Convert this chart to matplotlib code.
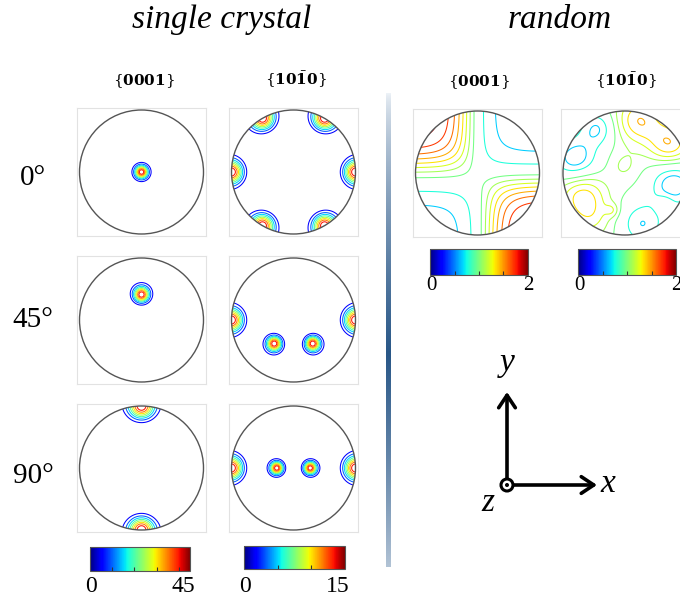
import numpy as np
import matplotlib
matplotlib.use('Agg')
import matplotlib.pyplot as plt
from matplotlib.patches import Circle
from matplotlib.cm import ScalarMappable
from matplotlib.colors import Normalize
from matplotlib.ticker import FixedLocator

plt.rcParams['mathtext.fontset'] = 'dejavuserif'

W, H = 680, 596

# ---------------- data ----------------
group_titles = ['single crystal', 'random']
family_labels = [r'$\{\mathbf{0001}\}$', r'$\{\mathbf{10\bar{1}0}\}$']
tilt_labels = ['0°', '45°', '90°']

# single crystal: colour-bar maxima, inner tick marks, pole spread (deg)
sc_max = [45, 15]
sc_cbar_ticks = [[10, 20, 30, 40], [5, 10]]
sc_spread_deg = [8.4, 7.6]

# projected pole positions in the unit circle, one list per tilt row
p0001_x = [[0.0], [0.0], [0.0, 0.0]]
p0001_y = [[0.0], [0.41], [1.0, -1.0]]
p1010_x = [[1.0, 0.5, -0.5, -1.0, -0.5, 0.5],
           [1.0, -1.0, -0.31, 0.31],
           [1.0, -1.0, -0.27, 0.27]]
p1010_y = [[0.0, 0.866, 0.866, 0.0, -0.866, -0.866],
           [0.0, 0.0, -0.38, -0.38],
           [0.0, 0.0, 0.0, 0.0]]

# random texture: colour-bar range and contour levels
rnd_max = 2
rnd_cbar_ticks = [0.5, 1.0, 1.5]
rnd_levels = [0.65, 0.77, 0.98, 1.1, 1.22, 1.34, 1.46, 1.58, 1.7, 1.82]
rnd_base = [0.97, 1.0]
# quadrant-type density features: corner x, corner y, x sign, y sign, amplitude, ramp
q0001_x = [-0.06, 0.08, -0.17, 0.15]
q0001_y = [0.00, -0.06, -0.10, -0.07]
q0001_dx = [-1, 1, 1, -1]
q0001_dy = [1, -1, 1, -1]
q0001_a = [1.00, 1.00, -0.40, -0.40]
q0001_l = [0.42, 0.42, 0.40, 0.40]

# local density features: centre x, centre y, amplitude, width
b1010_x = [0.23, 0.72, -0.70, -0.55, -0.21, -0.02, -0.80, -0.45, 0.78, 0.28, 0.64]
b1010_y = [0.85, 0.47, -0.33, -0.72, -0.60, 0.12, 0.22, 0.72, -0.18, -0.82, -0.50]
b1010_a = [0.45, 0.45, 0.38, 0.22, 0.18, 0.12, -0.45, -0.35, -0.45, -0.35, 0.18]
b1010_s = [0.26, 0.24, 0.26, 0.24, 0.08, 0.16, 0.26, 0.20, 0.26, 0.26, 0.10]

rnd_quads = [(q0001_x, q0001_y, q0001_dx, q0001_dy, q0001_a, q0001_l),
             ([], [], [], [], [], [])]
rnd_blobs = [([], [], [], []),
             (b1010_x, b1010_y, b1010_a, b1010_s)]

# ---------------- helpers ----------------
fig = plt.figure(figsize=(W / 100, H / 100), dpi=100)
ov = fig.add_axes([0, 0, 1, 1])
ov.set_xlim(0, W)
ov.set_ylim(H, 0)
ov.axis('off')

R_PX = 62.0
g = np.linspace(-1.06, 1.06, 421)
U, V = np.meshgrid(g, g)


def to_sphere(u, v):
    r2 = np.asarray(u) ** 2 + np.asarray(v) ** 2
    return 2 * u / (1 + r2), 2 * v / (1 + r2), (1 - r2) / (1 + r2)


def pf_axes(cx, cy):
    ax = fig.add_axes([(cx - 64.5) / W, 1 - (cy + 64) / H, 129 / W, 128 / H])
    ax.set_xlim(-64.5 / R_PX, 64.5 / R_PX)
    ax.set_ylim(-64 / R_PX, 64 / R_PX)
    ax.set_xticks([])
    ax.set_yticks([])
    for sp in ax.spines.values():
        sp.set_color('#e2e2e2')
        sp.set_linewidth(0.8)
    return ax


def draw_pf(ax, Z, levels, vmax):
    cs = ax.contour(U, V, Z, levels=levels, cmap='jet',
                    norm=Normalize(0, vmax), linewidths=0.75)
    clip = Circle((0, 0), 1.0, transform=ax.transData)
    cs.set_clip_path(clip)
    ax.add_patch(Circle((0, 0), 1.0, fill=False, edgecolor='#555555',
                        linewidth=1.0, zorder=5))


def sc_density(px, py, peak, spread):
    X, Y, Zs = to_sphere(U, V)
    sig = np.radians(spread)
    D = np.zeros_like(U)
    for a, b in zip(px, py):
        pX, pY, pZ = to_sphere(a, b)
        ang = np.arccos(np.clip(X * pX + Y * pY + Zs * pZ, -1, 1))
        D += peak * np.exp(-ang ** 2 / (2 * sig ** 2))
    return D


def soft_ramp(t, ln, k=0.09):
    return np.tanh(k * np.logaddexp(0, t / k) / ln)


def rnd_density(base, quads, blobs):
    D = np.full_like(U, base)
    for x0, y0, sx, sy, amp, ln in zip(*quads):
        D += amp * soft_ramp(sx * (U - x0), ln) * soft_ramp(sy * (V - y0), ln)
    for a, b, amp, s in zip(*blobs):
        D += amp * np.exp(-((U - a) ** 2 + (V - b) ** 2) / (2 * s ** 2))
    return D


def colorbar(x0, y0, w, h, vmax, ticks, lab_size, lab_base):
    cax = fig.add_axes([x0 / W, 1 - (y0 + h) / H, w / W, h / H])
    sm = ScalarMappable(norm=Normalize(0, vmax), cmap='jet')
    cb = fig.colorbar(sm, cax=cax, orientation='horizontal')
    cb.outline.set_edgecolor('#555555')
    cb.outline.set_linewidth(0.8)
    cb.set_ticks([])
    cax.xaxis.set_minor_locator(FixedLocator(ticks))
    cax.tick_params(which='minor', direction='in', length=3, width=0.8,
                    color='#333333', bottom=True, top=False, labelbottom=False)
    ov.text(x0 + 1, lab_base, '0', ha='center', va='baseline',
            fontsize=lab_size, family='Liberation Serif')
    ov.text(x0 + w + 5, lab_base, f'{vmax:g}', ha='right', va='baseline',
            fontsize=lab_size, family='Liberation Serif')


# ---------------- single crystal ----------------
sc_cx = [141.5, 293.5]
row_cy = [172, 320, 468]
pole_sets = [(p0001_x, p0001_y), (p1010_x, p1010_y)]
for j, (PX, PY) in enumerate(pole_sets):
    lv = [sc_max[j] * k / 9 for k in range(1, 9)]
    for i in range(3):
        ax = pf_axes(sc_cx[j], row_cy[i])
        draw_pf(ax, sc_density(PX[i], PY[i], sc_max[j], sc_spread_deg[j]),
                lv, sc_max[j])
    ov.text(sc_cx[j] + 2, 85, family_labels[j], ha='center', va='baseline',
            fontsize=11)

for i in range(3):
    ov.text(33, [185, 327, 483][i], tilt_labels[i], ha='center', va='baseline',
            fontsize=21, family='Liberation Serif')

colorbar(90, 547, 100, 24, sc_max[0], sc_cbar_ticks[0], 17, 592)
colorbar(244, 546, 101, 23, sc_max[1], sc_cbar_ticks[1], 17, 592)

# ---------------- random ----------------
rnd_cx = [477.5, 625.0]
for j in range(2):
    ax = pf_axes(rnd_cx[j], 173)
    draw_pf(ax, rnd_density(rnd_base[j], rnd_quads[j], rnd_blobs[j]),
            rnd_levels, rnd_max)
    ov.text(rnd_cx[j] + 1, 86, family_labels[j], ha='center', va='baseline',
            fontsize=11)

colorbar(430, 249, 98, 26, rnd_max, rnd_cbar_ticks, 15, 290)
colorbar(578, 249, 98, 26, rnd_max, rnd_cbar_ticks, 15, 290)

# ---------------- titles ----------------
ov.text(222, 28, group_titles[0], ha='center', va='baseline', fontsize=24,
        family='Liberation Serif', style='italic')
ov.text(560, 28, group_titles[1], ha='center', va='baseline', fontsize=24,
        family='Liberation Serif', style='italic')

# ---------------- separator ----------------
n = 300
t = np.linspace(0, 1, n)
dark = np.clip(1 - np.abs(t - 0.55) / 0.55, 0, 1) ** 0.7
c_light = np.array([0.93, 0.95, 0.97])
c_dark = np.array([0.16, 0.34, 0.53])
grad = c_light[None, :] * (1 - dark[:, None]) + c_dark[None, :] * dark[:, None]
ov.imshow(grad[:, None, :], extent=[385.5, 390, 567, 93], aspect='auto',
          interpolation='bilinear', zorder=1)
ov.set_xlim(0, W)
ov.set_ylim(H, 0)

# ---------------- axis triad ----------------
ox, oy = 507, 485
arrow_kw = dict(arrowstyle='->,head_length=0.45,head_width=0.3', lw=2.6,
                color='black', shrinkA=0, shrinkB=0, mutation_scale=20)
ov.annotate('', xy=(ox, 392), xytext=(ox, oy), arrowprops=arrow_kw)
ov.annotate('', xy=(597, oy), xytext=(ox, oy), arrowprops=arrow_kw)
ov.add_patch(Circle((ox, oy), 6.0, facecolor='white', edgecolor='black',
                    linewidth=2.2, zorder=6))
ov.add_patch(Circle((ox, oy), 2.0, facecolor='black', edgecolor='none',
                    zorder=7))
ov.text(507, 371, 'y', ha='center', va='baseline', fontsize=24,
        family='Liberation Serif', style='italic')
ov.text(608, 492, 'x', ha='center', va='baseline', fontsize=24,
        family='Liberation Serif', style='italic')
ov.text(488, 511, 'z', ha='center', va='baseline', fontsize=24,
        family='Liberation Serif', style='italic')

fig.savefig('out.png', dpi=100)
